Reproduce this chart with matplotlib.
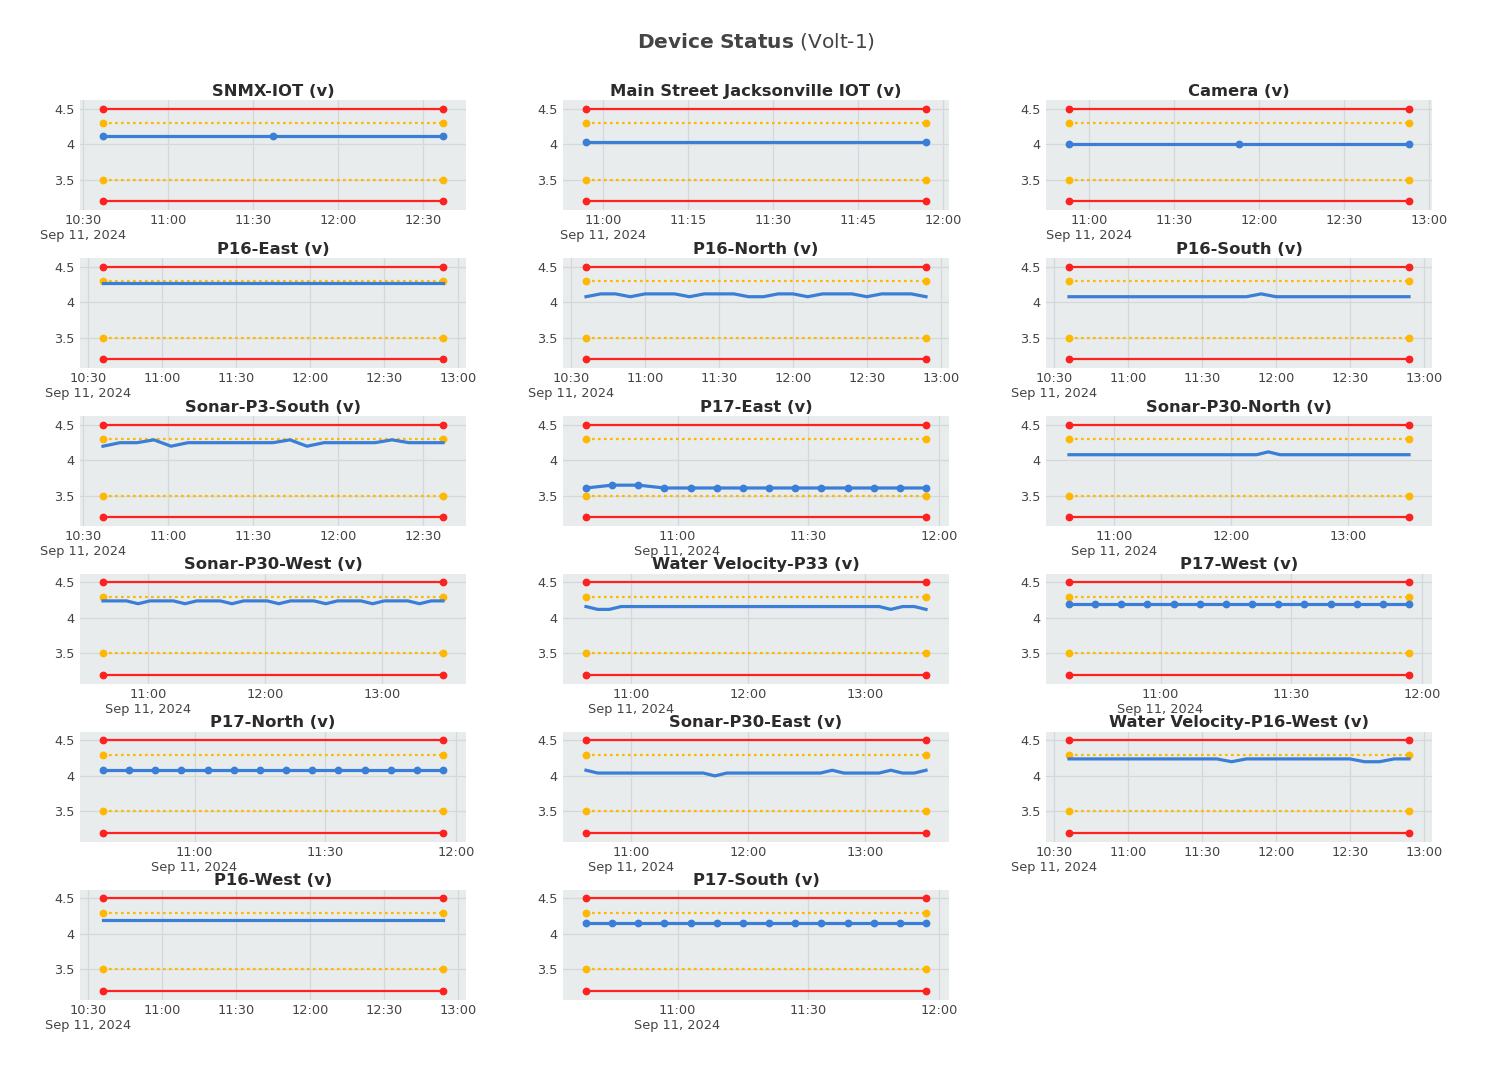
import matplotlib
matplotlib.use('Agg')
import matplotlib.pyplot as plt
import matplotlib.dates as mdates
import pandas as pd

plt.rcParams['font.family'] = ['DejaVu Sans']

# panel titles, in grid order (3 per row)
titles = ['SNMX-IOT (v)', 'Main Street Jacksonville IOT (v)', 'Camera (v)',
          'P16-East (v)', 'P16-North (v)', 'P16-South (v)',
          'Sonar-P3-South (v)', 'P17-East (v)', 'Sonar-P30-North (v)',
          'Sonar-P30-West (v)', 'Water Velocity-P33 (v)', 'P17-West (v)',
          'P17-North (v)', 'Sonar-P30-East (v)', 'Water Velocity-P16-West (v)',
          'P16-West (v)', 'P17-South (v)']

# first reading time and sampling interval (minutes) of each device
start_times = ['10:37', '10:57', '10:53',
               '10:36', '10:36', '10:36',
               '10:37', '10:39', '10:37',
               '10:37', '10:37', '10:39',
               '10:39', '10:37', '10:36',
               '10:36', '10:39']
step_minutes = [60, 60, 60,
                6, 6, 6,
                6, 6, 6,
                6, 6, 6,
                6, 6, 6,
                6, 6]

# voltage readings
snmx_iot = [4.12, 4.12, 4.12]
main_street = [4.03, 4.03]
camera = [4.01, 4.01, 4.01]
p16_east = [4.28, 4.28, 4.28, 4.28, 4.28, 4.28, 4.28, 4.28, 4.28, 4.28, 4.28, 4.28,
            4.28, 4.28, 4.28, 4.28, 4.28, 4.28, 4.28, 4.28, 4.28, 4.28, 4.28, 4.28]
p16_north = [4.08, 4.12, 4.12, 4.08, 4.12, 4.12, 4.12, 4.08, 4.12, 4.12, 4.12, 4.08,
             4.08, 4.12, 4.12, 4.08, 4.12, 4.12, 4.12, 4.08, 4.12, 4.12, 4.12, 4.08]
p16_south = [4.08, 4.08, 4.08, 4.08, 4.08, 4.08, 4.08, 4.08, 4.08, 4.08, 4.08, 4.08,
             4.08, 4.12, 4.08, 4.08, 4.08, 4.08, 4.08, 4.08, 4.08, 4.08, 4.08, 4.08]
sonar_p3_south = [4.2, 4.25, 4.25, 4.29, 4.2, 4.25, 4.25, 4.25, 4.25, 4.25, 4.25,
                  4.29, 4.2, 4.25, 4.25, 4.25, 4.25, 4.29, 4.25, 4.25, 4.25]
p17_east = [3.61, 3.65, 3.65, 3.61, 3.61, 3.61, 3.61, 3.61, 3.61, 3.61, 3.61, 3.61, 3.61, 3.61]
sonar_p30_north = [4.08, 4.08, 4.08, 4.08, 4.08, 4.08, 4.08, 4.08, 4.08, 4.08,
                   4.08, 4.08, 4.08, 4.08, 4.08, 4.08, 4.08, 4.12, 4.08, 4.08,
                   4.08, 4.08, 4.08, 4.08, 4.08, 4.08, 4.08, 4.08, 4.08, 4.08]
sonar_p30_west = [4.24, 4.24, 4.24, 4.2, 4.24, 4.24, 4.24, 4.2, 4.24, 4.24,
                  4.24, 4.2, 4.24, 4.24, 4.24, 4.2, 4.24, 4.24, 4.24, 4.2,
                  4.24, 4.24, 4.24, 4.2, 4.24, 4.24, 4.24, 4.2, 4.24, 4.24]
water_velocity_p33 = [4.16, 4.12, 4.12, 4.16, 4.16, 4.16, 4.16, 4.16, 4.16, 4.16,
                      4.16, 4.16, 4.16, 4.16, 4.16, 4.16, 4.16, 4.16, 4.16, 4.16,
                      4.16, 4.16, 4.16, 4.16, 4.16, 4.16, 4.12, 4.16, 4.16, 4.12]
p17_west = [4.2, 4.2, 4.2, 4.2, 4.2, 4.2, 4.2, 4.2, 4.2, 4.2, 4.2, 4.2, 4.2, 4.2]
p17_north = [4.08, 4.08, 4.08, 4.08, 4.08, 4.08, 4.08, 4.08, 4.08, 4.08, 4.08, 4.08, 4.08, 4.08]
sonar_p30_east = [4.08, 4.04, 4.04, 4.04, 4.04, 4.04, 4.04, 4.04, 4.04, 4.04,
                  4.04, 4.0, 4.04, 4.04, 4.04, 4.04, 4.04, 4.04, 4.04, 4.04,
                  4.04, 4.08, 4.04, 4.04, 4.04, 4.04, 4.08, 4.04, 4.04, 4.08]
wv_p16_west = [4.24, 4.24, 4.24, 4.24, 4.24, 4.24, 4.24, 4.24, 4.24, 4.24, 4.24, 4.2,
               4.24, 4.24, 4.24, 4.24, 4.24, 4.24, 4.24, 4.24, 4.2, 4.2, 4.24, 4.24]
p16_west = [4.2, 4.2, 4.2, 4.2, 4.2, 4.2, 4.2, 4.2, 4.2, 4.2, 4.2, 4.2,
            4.2, 4.2, 4.2, 4.2, 4.2, 4.2, 4.2, 4.2, 4.2, 4.2, 4.2, 4.2]
p17_south = [4.15, 4.15, 4.15, 4.15, 4.15, 4.15, 4.15, 4.15, 4.15, 4.15, 4.15, 4.15, 4.15, 4.15]

readings = [snmx_iot, main_street, camera, p16_east, p16_north, p16_south,
            sonar_p3_south, p17_east, sonar_p30_north, sonar_p30_west,
            water_velocity_p33, p17_west, p17_north, sonar_p30_east,
            wv_p16_west, p16_west, p17_south]

# alarm / warning limits
red_limits = [4.5, 3.2]
orange_limits = [4.3, 3.5]

RED = '#ff2020'
ORANGE = '#ffb800'
BLUE = '#3a7ed8'
TXT = '#444444'

W, H = 1512, 1080
fig = plt.figure(figsize=(W / 100, H / 100), dpi=100)

col_left = [80, 563, 1046]
row_top = [100, 258, 416, 573.5, 731.5, 889.5]
ax_w, ax_h = 386, 110

for k, (title, start, step, vals) in enumerate(zip(titles, start_times, step_minutes, readings)):
    r, c = divmod(k, 3)
    ax = fig.add_axes([col_left[c] / W, 1 - (row_top[r] + ax_h) / H, ax_w / W, ax_h / H])
    ax.set_facecolor('#e8eced')

    times = pd.date_range(pd.Timestamp('2024-09-11 ' + start), periods=len(vals), freq=f'{step}min')
    x = mdates.date2num(times.to_pydatetime())
    ends = [x[0], x[-1]]

    for lim in red_limits:
        ax.plot(ends, [lim, lim], color=RED, lw=1.6, marker='o', ms=4.6, zorder=3)
    for lim in orange_limits:
        ax.plot(ends, [lim, lim], color=ORANGE, lw=1.6, ls=(0, (1.2, 1.5)), marker='o', ms=4.6, zorder=3)
    # plotly draws markers automatically below 20 points
    mk = 'o' if len(vals) < 20 else None
    ax.plot(x, vals, color=BLUE, lw=2.3, marker=mk, ms=4.6, zorder=4)

    span = x[-1] - x[0]
    pad = 0.0676 * span
    ax.set_xlim(x[0] - pad, x[-1] + pad)
    ax.set_ylim(3.073, 4.627)

    span_min = (times[-1] - times[0]).total_seconds() / 60
    tick_step = 60 if span_min > 150 else (30 if span_min > 70 else 15)
    lo = pd.Timestamp(mdates.num2date(x[0] - pad).replace(tzinfo=None)).ceil(f'{tick_step}min')
    hi = pd.Timestamp(mdates.num2date(x[-1] + pad).replace(tzinfo=None))
    ticks = pd.date_range(lo, hi, freq=f'{tick_step}min')
    labels = [t.strftime('%H:%M') for t in ticks]
    labels[0] += '\nSep 11, 2024'
    ax.set_xticks(mdates.date2num(ticks.to_pydatetime()))
    ax.set_xticklabels(labels)

    ax.set_yticks([3.5, 4, 4.5])
    ax.set_yticklabels(['3.5', '4', '4.5'])
    ax.tick_params(length=0, labelsize=9.3, colors=TXT)
    ax.tick_params(axis='x', pad=3)
    ax.tick_params(axis='y', pad=4)
    ax.grid(True, color='#d4d8db', lw=0.9)
    ax.set_axisbelow(True)
    for s in ax.spines.values():
        s.set_visible(False)
    ax.set_title(title, fontsize=11.8, fontweight='bold', color='#2b2b2b', pad=3)

fig.text(0.5, 1 - 42 / H, r'$\mathbf{Device\ Status}$ (Volt-1)', ha='center', va='center',
         fontsize=14.5, color=TXT)

fig.savefig('out.png', dpi=100, facecolor='white')
